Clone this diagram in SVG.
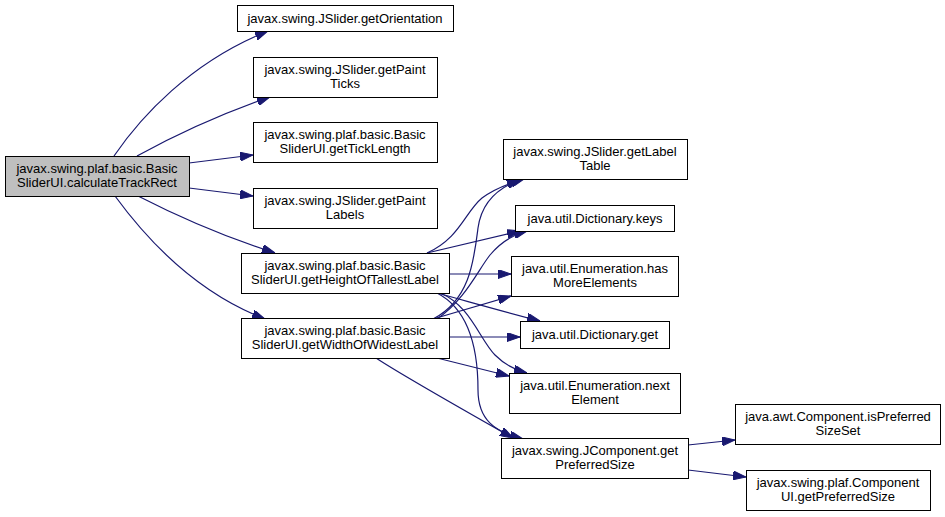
<svg xmlns="http://www.w3.org/2000/svg" width="945" height="517" viewBox="0 0 945 517">
<style>
.n rect{fill:#ffffff;stroke:#000000;stroke-width:1}
.n text{font-family:"Liberation Sans",Arial,sans-serif;font-size:13px;text-anchor:middle;fill:#000000}
#edges path{fill:none;stroke:#191970;stroke-width:1.2;marker-end:url(#ah)}
</style>
<defs>
<marker id="ah" markerUnits="userSpaceOnUse" markerWidth="13" markerHeight="9" viewBox="0 0 13 9" refX="13" refY="4.5" orient="auto">
<path d="M0,0 L13,4.5 L0,9 z" fill="#191970" stroke="#191970"/>
</marker>
</defs>
<rect width="945" height="517" fill="#ffffff"/>
<g id="edges">
<path d="M114,156 C140,118 190,62 268,31"/>
<path d="M137,156 C170,138 215,116 270,97"/>
<path d="M189,163 L253,155"/>
<path d="M189,188 L253,196"/>
<path d="M138,196 C175,215 225,237 275,253"/>
<path d="M115,196 C145,237 195,292 265,319"/>
<path d="M427,253 C460,238 465,212 482,198 C495,188 510,183 524,179"/>
<path d="M433,319 C470,300 474,260 478,228 C482,200 500,187 520,180"/>
<path d="M427,253 L520,231"/>
<path d="M437,319 C465,300 478,270 490,255 C500,243 512,235 527,231"/>
<path d="M449,274 L511,274"/>
<path d="M433,319 L511,296"/>
<path d="M437,293 C470,302 505,312 540,321"/>
<path d="M449,337 L520,337"/>
<path d="M440,293 C470,305 480,340 495,355 C505,365 515,370 527,373"/>
<path d="M437,358 L509,376"/>
<path d="M437,293 C470,310 478,350 478,390 C478,420 495,432 523,439"/>
<path d="M376,358 C400,374 460,408 513,438"/>
<path d="M688,445 L735,440"/>
<path d="M688,470 L746,477"/>
</g>
<g id="n0" class="n"><rect x="5.5" y="156.5" width="184" height="40" style="fill:#bfbfbf"/><text x="97" y="173">javax.swing.plaf.basic.Basic</text><text x="97" y="187">SliderUI.calculateTrackRect</text></g>
<g id="n1" class="n"><rect x="237.5" y="5.5" width="216" height="26"/><text x="345" y="23">javax.swing.JSlider.getOrientation</text></g>
<g id="n2" class="n"><rect x="253.5" y="57.5" width="184" height="40"/><text x="345" y="74">javax.swing.JSlider.getPaint</text><text x="345" y="88">Ticks</text></g>
<g id="n3" class="n"><rect x="253.5" y="122.5" width="184" height="40"/><text x="345" y="139">javax.swing.plaf.basic.Basic</text><text x="345" y="153">SliderUI.getTickLength</text></g>
<g id="n4" class="n"><rect x="253.5" y="188.5" width="184" height="40"/><text x="345" y="205">javax.swing.JSlider.getPaint</text><text x="345" y="219">Labels</text></g>
<g id="n5" class="n"><rect x="241.5" y="253.5" width="208" height="40"/><text x="345" y="270">javax.swing.plaf.basic.Basic</text><text x="345" y="284">SliderUI.getHeightOfTallestLabel</text></g>
<g id="n6" class="n"><rect x="241.5" y="318.5" width="208" height="40"/><text x="345" y="335">javax.swing.plaf.basic.Basic</text><text x="345" y="349">SliderUI.getWidthOfWidestLabel</text></g>
<g id="n7" class="n"><rect x="503.5" y="139.5" width="184" height="40"/><text x="595" y="156">javax.swing.JSlider.getLabel</text><text x="595" y="170">Table</text></g>
<g id="n8" class="n"><rect x="515.5" y="205.5" width="159" height="26"/><text x="595" y="223">java.util.Dictionary.keys</text></g>
<g id="n9" class="n"><rect x="511.5" y="256.5" width="167" height="40"/><text x="595" y="273">java.util.Enumeration.has</text><text x="595" y="287">MoreElements</text></g>
<g id="n10" class="n"><rect x="520.5" y="321.5" width="149" height="27"/><text x="595" y="339">java.util.Dictionary.get</text></g>
<g id="n11" class="n"><rect x="509.5" y="373.5" width="171" height="40"/><text x="595" y="390">java.util.Enumeration.next</text><text x="595" y="404">Element</text></g>
<g id="n12" class="n"><rect x="501.5" y="438.5" width="187" height="40"/><text x="595" y="455">javax.swing.JComponent.get</text><text x="595" y="469">PreferredSize</text></g>
<g id="n13" class="n"><rect x="735.5" y="404.5" width="205" height="40"/><text x="838" y="421">java.awt.Component.isPreferred</text><text x="838" y="435">SizeSet</text></g>
<g id="n14" class="n"><rect x="746.5" y="470.5" width="184" height="40"/><text x="838" y="487">javax.swing.plaf.Component</text><text x="838" y="501">UI.getPreferredSize</text></g>
</svg>
